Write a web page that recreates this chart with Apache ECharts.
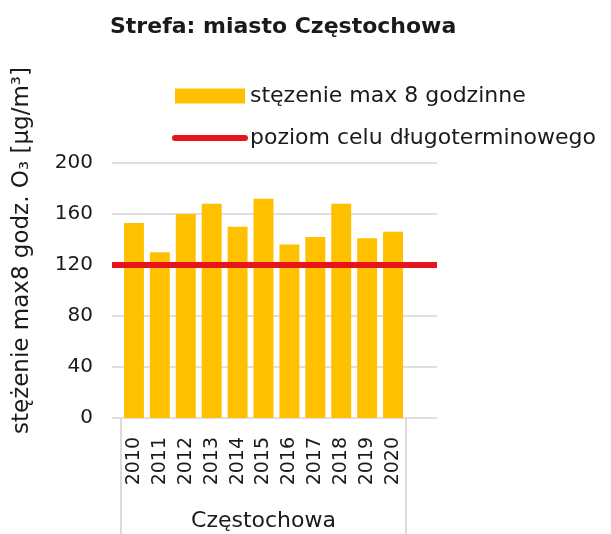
<!DOCTYPE html>
<html lang="pl">
<head>
	<meta charset="UTF-8">
	<title>Strefa: miasto Częstochowa</title>
	<script src="https://cdn.jsdelivr.net/npm/echarts@6/dist/echarts.min.js"></script>
	<style>
		html, body { margin: 0; padding: 0; background: #fff; }
		#chart { width: 611px; height: 534px; }
	</style>
</head>
<body>
	<div id="chart"></div>

	<script type="text/javascript">
		// dane
		var chartTitle = 'Strefa: miasto Częstochowa';
		var regionName = 'Częstochowa';
		var years = ['2010', '2011', '2012', '2013', '2014', '2015', '2016', '2017', '2018', '2019', '2020'];
		var maxValues = [153, 130, 160, 168, 150, 172, 136, 142, 168, 141, 146];
		var targetLevel = 120;
		var barName = 'stęzenie max 8 godzinne';
		var lineName = 'poziom celu długoterminowego';
		var yName = 'stężenie max8 godz. O₃ [µg/m³]';

		var font = 'DejaVu Sans';
		var textColor = '#1a1a1a';
		var red = '#E8141B';

		var myChart = echarts.init(document.getElementById('chart'), null, { renderer: 'canvas' });
		myChart.setOption({
			animation: false,
			backgroundColor: '#fff',
			title: {
				text: chartTitle,
				left: 110,
				top: 16,
				padding: 0,
				textStyle: { fontFamily: font, fontSize: 22, fontWeight: 'bold', color: textColor }
			},
			legend: {
				orient: 'vertical',
				left: 172,
				top: 85,
				padding: 0,
				itemWidth: 70,
				itemHeight: 15,
				itemGap: 20,
				textStyle: { fontFamily: font, fontSize: 22, color: textColor },
				data: [
					{ name: barName, icon: 'rect' },
					{
						name: lineName,
						itemStyle: { color: 'transparent', opacity: 0 },
						lineStyle: { color: red, width: 6, cap: 'round' }
					}
				]
			},
			grid: [
				{ left: 112, top: 163, width: 325, height: 255 },
				{ left: 121, top: 163, width: 285, height: 255 }
			],
			xAxis: [
				{ gridIndex: 0, type: 'value', min: 0, max: 1, show: false },
				{
					gridIndex: 1,
					type: 'category',
					data: years,
					axisLine: { show: false },
					axisTick: { show: false },
					axisLabel: { rotate: 90, margin: 19, fontFamily: font, fontSize: 19, color: textColor }
				},
				{
					gridIndex: 1,
					type: 'category',
					position: 'bottom',
					data: [regionName],
					axisLine: { show: false },
					axisTick: { show: true, length: 120, lineStyle: { color: '#d0d0d0', width: 1.5 } },
					axisLabel: { margin: 92, fontFamily: font, fontSize: 22, color: textColor }
				}
			],
			yAxis: [
				{
					gridIndex: 0,
					type: 'value',
					min: 0,
					max: 200,
					interval: 40,
					axisLine: { show: false },
					axisTick: { show: false },
					axisLabel: { margin: 19, fontFamily: font, fontSize: 20, color: textColor },
					splitLine: { lineStyle: { color: '#d4d4d4', width: 1.5 } },
					name: yName,
					nameLocation: 'middle',
					nameRotate: 90,
					nameGap: 78,
					nameTextStyle: { fontFamily: font, fontSize: 23, color: textColor, padding: [0, 0, 0, 80] }
				},
				{ gridIndex: 1, type: 'value', min: 0, max: 200, show: false }
			],
			series: [
				{
					name: barName,
					type: 'bar',
					xAxisIndex: 1,
					yAxisIndex: 1,
					barCategoryGap: '23%',
					itemStyle: { color: '#FFC000' },
					data: maxValues
				},
				{
					name: lineName,
					type: 'line',
					xAxisIndex: 0,
					yAxisIndex: 0,
					symbol: 'none',
					itemStyle: { color: red },
					lineStyle: { color: red, width: 6 },
					data: [[0, targetLevel], [1, targetLevel]]
				}
			]
		});
	</script>
</body>
</html>
